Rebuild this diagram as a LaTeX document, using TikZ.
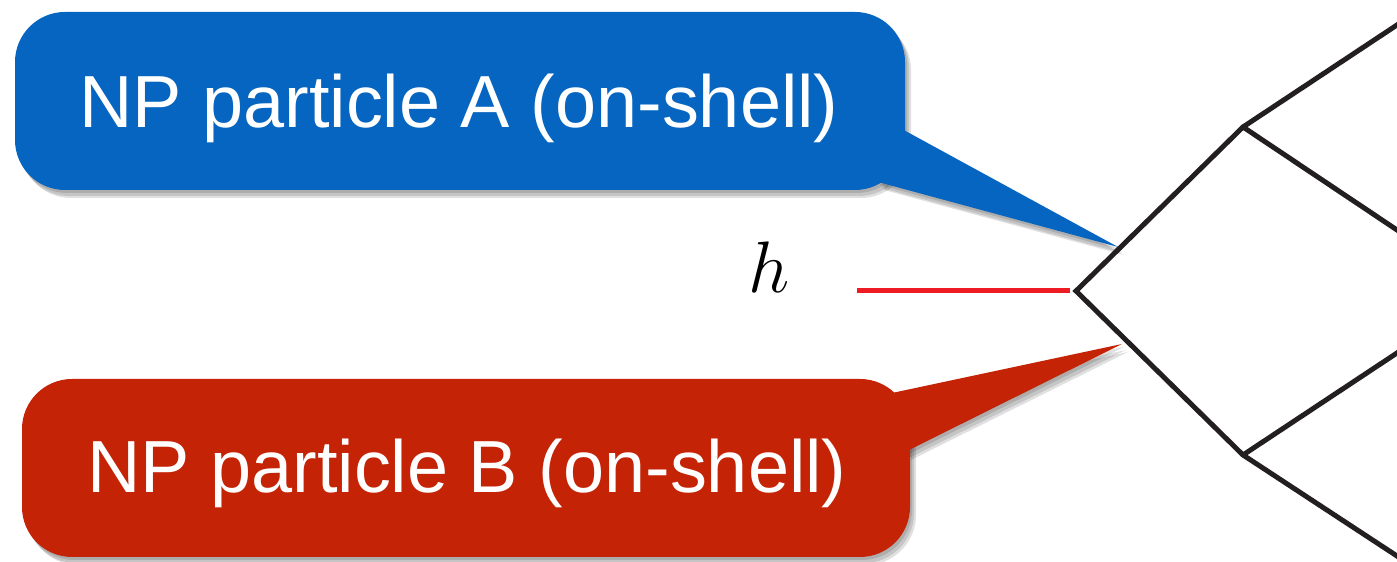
\documentclass[tikz,border=0pt]{standalone}
\usepackage{fontspec}
\setmainfont{Liberation Sans}
\definecolor{calloutblue}{RGB}{5,101,192}
\definecolor{calloutred}{RGB}{197,35,6}
\definecolor{higgsred}{RGB}{237,28,36}
\definecolor{linedark}{RGB}{35,31,32}
\tikzset{
  feyn/.style={draw=linedark, line width=0.05cm, line cap=round, line join=miter},
  higgs/.style={draw=higgsred, line width=0.05cm},
  calltext/.style={text=white, font=\fontsize{21}{25}\selectfont, anchor=base, inner sep=0pt},
  shadowfill/.style={fill=black, opacity=0.12},
}
\begin{document}
\begin{tikzpicture}[x=0.01cm,y=-0.01cm]
\useasboundingbox (0,0) rectangle (1397,562);
% shadows
\foreach \dx/\dy in {2/3,4/6,6/8}{
  \fill[shadowfill, shift={(\dx,\dy)}] [rounded corners=0.5cm] (15,12) rectangle (905,190);
  \fill[shadowfill, shift={(\dx,\dy)}] (900,128) -- (1118,247) -- (878,182) -- cycle;
  \fill[shadowfill, shift={(\dx,\dy)}] [rounded corners=0.5cm] (22,379) rectangle (910,557);
  \fill[shadowfill, shift={(\dx,\dy)}] (892,393) -- (1122,344) -- (905,452) -- cycle;
}
% blue callout
\fill[calloutblue, rounded corners=0.5cm] (15,12) rectangle (905,190);
\fill[calloutblue] (900,128) -- (1118,247) -- (878,182) -- cycle;
\node[calltext] (tA) at (459,128) {NP particle A (on-shell)};
% red callout
\fill[calloutred, rounded corners=0.5cm] (22,379) rectangle (910,557);
\fill[calloutred] (892,393) -- (1122,344) -- (905,452) -- cycle;
\node[calltext] (tB) at (467,493) {NP particle B (on-shell)};
% diagram
\coordinate (L) at (1076,291);
\coordinate (T) at (1243,127);
\coordinate (B) at (1243,455);
\coordinate (T1) at (1400,23);
\coordinate (T2) at (1400,232);
\coordinate (B1) at (1400,351);
\coordinate (B2) at (1400,558);
\coordinate (hs) at (857,291);
\coordinate (he) at (1070,291);
\node[font=\fontsize{22}{26}\selectfont, anchor=base, inner sep=0pt] (hl) at (769,293) {$h$};
\draw[higgs] (hs) -- (he);
\draw[feyn] (T1) -- (T) -- (L) -- (B) -- (B2);
\draw[feyn] (T) -- (T2);
\draw[feyn] (B) -- (B1);
\end{tikzpicture}
\end{document}
